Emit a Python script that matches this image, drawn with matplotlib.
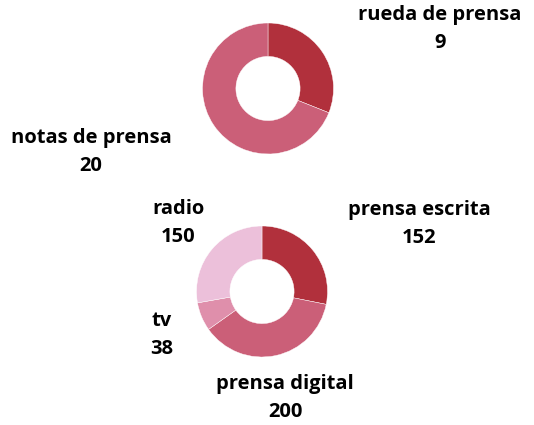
import matplotlib
matplotlib.use("Agg")
import matplotlib.pyplot as plt

# top donut
top_labels = ["rueda de prensa", "notas de prensa"]
top_values = [9, 20]
top_colors = ["#b1303c", "#cb5f78"]

# bottom donut
bot_labels = ["prensa escrita", "prensa digital", "tv", "radio"]
bot_values = [152, 200, 38, 150]
bot_colors = ["#b1303c", "#cb5f78", "#df8fab", "#ecc0da"]

W, H = 534, 425
fig = plt.figure(figsize=(W / 100, H / 100), dpi=100)
plt.rcParams["font.family"] = ["Open Sans", "DejaVu Sans"]


def donut(cx, cy, r, values, colors):
    ax = fig.add_axes([(cx - r) / W, (H - cy - r) / H, 2 * r / W, 2 * r / H])
    ax.pie(values, colors=colors, startangle=90, counterclock=False,
           radius=1, wedgeprops=dict(width=0.51, edgecolor="white", linewidth=0.3))
    ax.set_xlim(-1, 1)
    ax.set_ylim(-1, 1)
    ax.set_aspect("equal")
    ax.axis("off")
    return ax


donut(268, 88.5, 65.5, top_values, top_colors)
donut(262, 291.5, 65.5, bot_values, bot_colors)

# label positions (pixel centres of the name line)
top_pos = [(440, 15), (91, 138)]
bot_pos = [(419, 210), (285, 384), (162, 321), (178, 209)]


def label(x, y, name, val):
    fig.text(x / W, 1 - y / H, name, ha="center", va="center",
             fontsize=14.5, fontweight="bold", color="#000000")
    fig.text(x / W, 1 - (y + 28) / H, str(val), ha="center", va="center",
             fontsize=14.5, fontweight="bold", color="#000000")


for (x, y), n, v in zip(top_pos, top_labels, top_values):
    label(x, y, n, v)
for (x, y), n, v in zip(bot_pos, bot_labels, bot_values):
    label(x, y, n, v)

fig.savefig("out.png", dpi=100)
